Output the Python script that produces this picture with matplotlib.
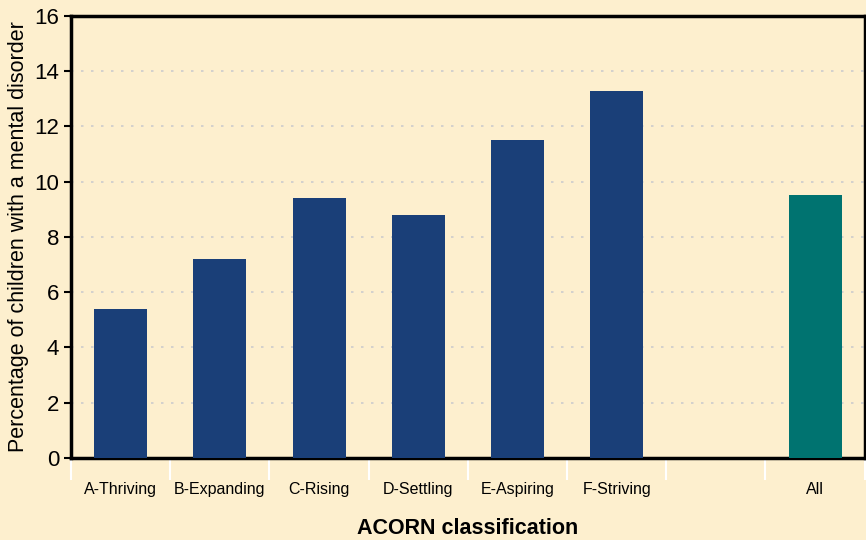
import matplotlib.pyplot as plt
import numpy as np

plt.rcParams['font.family'] = ['Liberation Sans', 'DejaVu Sans']

# カテゴリと値
categories = ['A-Thriving', 'B-Expanding', 'C-Rising', 'D-Settling', 'E-Aspiring', 'F-Striving', '', 'All']
values = [5.4, 7.2, 9.4, 8.8, 11.5, 13.3, np.nan, 9.5]
colors = ['#1a3f78'] * 6 + ['#1a3f78', '#007370']

bg = '#fdefce'
fig = plt.figure(figsize=(8.66, 5.4), dpi=100, facecolor=bg)
ax = fig.add_axes([0.082, 0.152, 0.9165, 0.8185])
ax.set_facecolor(bg)

x = np.arange(len(categories))
ax.bar(x, values, width=0.535, color=colors, zorder=3)

ax.set_xlim(-0.5, len(categories) - 0.5)
ax.set_ylim(0, 16)
ax.set_yticks(range(0, 17, 2))
ax.set_xticks(x)
ax.set_xticklabels(categories, fontsize=11.5)
ax.set_xticks(np.arange(-0.5, len(categories)), minor=True)
ax.tick_params(axis='x', which='major', length=0, pad=17)
ax.tick_params(axis='x', which='minor', length=16, width=1.5, color='white', direction='out')
ax.tick_params(axis='y', labelsize=16, length=5, width=1.5, direction='out')

for v in range(2, 16, 2):
    ax.axhline(v, color='#cccccc', linestyle=(0, (1.5, 4.5)), linewidth=1.2, zorder=1)

for s in ax.spines.values():
    s.set_linewidth(2.5)
    s.set_color('black')

ax.set_xlabel('ACORN classification', fontsize=15.5, fontweight='bold', labelpad=15.5)
ax.set_ylabel('Percentage of children with a mental disorder', fontsize=15.5, labelpad=4)

fig.savefig('out.png', dpi=100, facecolor=bg)
